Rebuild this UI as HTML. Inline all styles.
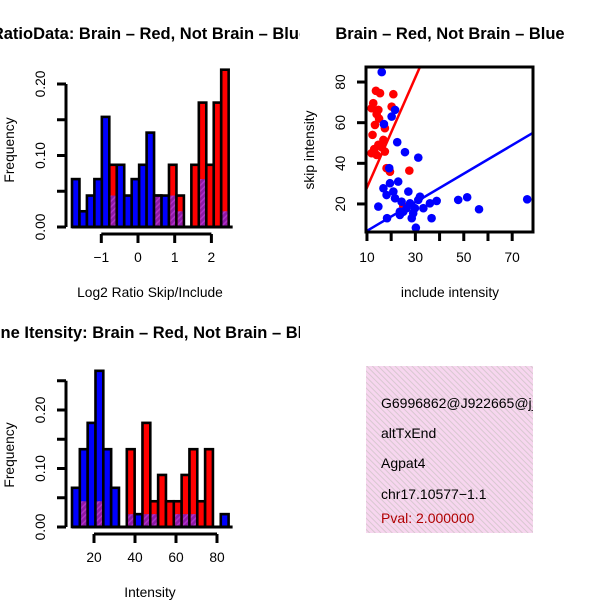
<!DOCTYPE html>
<html><head><meta charset="utf-8"><style>
html,body{margin:0;padding:0;background:#fff}
svg{display:block}
text{font-family:"Liberation Sans",sans-serif;}
</style></head><body>
<svg id="s" width="600" height="600" xmlns="http://www.w3.org/2000/svg">
<defs>
<pattern id="hatch" width="4" height="4" patternUnits="userSpaceOnUse" patternTransform="rotate(45)"><rect width="4" height="4" fill="#8e1aa6"/><rect width="1.5" height="4" fill="#b030c8"/></pattern>
<pattern id="pink" width="4" height="4" patternUnits="userSpaceOnUse" patternTransform="rotate(-45)"><rect width="4" height="4" fill="#f7d6ef"/><rect width="1" height="4" fill="#d8c8d0"/></pattern>
<clipPath id="c1"><rect x="0" y="0" width="300" height="300"/></clipPath>
<clipPath id="c3"><rect x="0" y="300" width="300" height="300"/></clipPath>
<clipPath id="cs"><rect x="366" y="67" width="167" height="165"/></clipPath>
<clipPath id="cb"><rect x="366" y="366" width="167" height="167"/></clipPath>
</defs>
<g clip-path="url(#c1)"><text x="150" y="39" text-anchor="middle" font-size="16.5" font-weight="bold">RatioData: Brain – Red, Not Brain – Blue</text></g>
<g clip-path="url(#c3)"><text x="150" y="338" text-anchor="middle" font-size="16.5" font-weight="bold">Gene Itensity: Brain – Red, Not Brain – Blue</text></g>
<text x="450" y="39" text-anchor="middle" font-size="16.5" font-weight="bold">Brain – Red, Not Brain – Blue</text>
<g id="p1"></g><g id="p3"></g><g id="ps"></g>
<g>
<rect x="366" y="366" width="167" height="167" fill="url(#pink)"/>
<g clip-path="url(#cb)" font-size="14">
<text x="381" y="408">G6996862@J922665@j_</text>
<text x="381" y="438">altTxEnd</text>
<text x="381" y="468">Agpat4</text>
<text x="381" y="499">chr17.10577−1.1</text>
<text x="381" y="523" fill="#b00000">Pval: 2.000000</text>
</g></g>
</svg>
<script>
// Histogram 1 (log2 ratio)
const h1Blue=[0.067,0.022,0.044,0.067,0.154,0.044,0.087,0.044,0.067,0.087,0.132,0.044,0.044,0.044,0.022,0,0,0.067,0,0,0.022];
const h1Red=[0,0,0,0,0,0.087,0,0,0,0,0,0.044,0,0.087,0.044,0,0.087,0.174,0.087,0.174,0.22];
const h1XTicks=[-1,0,1,2];
const h1YTicks=[0,0.05,0.1,0.15,0.2];
const h1YLabels=["0.00","0.10","0.20"];
// Histogram 2 (intensity)
const h2Blue=[0.067,0.133,0.178,0.267,0.133,0.067,0,0.022,0.022,0.022,0.022,0,0,0.022,0.022,0.022,0,0,0,0.022];
const h2Red=[0,0.044,0,0.044,0,0,0,0.133,0,0.178,0.044,0.089,0.044,0.044,0.089,0.133,0.044,0.133,0,0];
const h2XTicks=[20,40,60,80];
const h2YTicks=[0,0.05,0.1,0.15,0.2,0.25];
const h2YLabels=["0.00","0.10","0.20"];
// Scatter
const redX=[13.7,15.4,20.9,12.6,11.9,14.7,20.2,14,13.3,17.4,12.3,16.8,14.7,11.9,14,17.4,18.1,19.5,27.5,15,13,16,25];
const redY=[75.7,74.5,74,69.6,67.1,66.3,67.9,64.2,58.9,57.3,54,51.5,49.1,45,44.1,45.8,37.6,35.9,36.4,62,47,48,19];
const blueX=[16.1,21.6,20.2,17,22.5,25.7,31.2,19.2,16.8,19.5,22.9,18.1,20.9,27.1,14.7,24.3,27.8,26.4,23.6,29.1,31.2,31.9,33.3,36,38.8,47.7,51.4,56.3,76.2,18.3,23.6,28.5,30.2,36.7,25,21.6,29.8];
const blueY=[84.9,66.3,63,59.3,50.4,45.5,42.8,37.6,27.7,30.2,31,24.4,26.1,26.1,18.7,21.1,20.3,17.9,16.2,15.4,22,23.6,17.9,20.3,21.5,22,23.3,17.4,22.3,13,14.6,13,8.3,13,16.2,22.8,17.9];
const fitIntercept=[1.0,-0.25];
const fitSlope=[2.71,0.703];
const sXTicks=[10,20,30,40,50,60,70];
const sXLabels=[10,30,50,70];
const sYTicks=[20,40,60,80];

const NS="http://www.w3.org/2000/svg";
const FS=13.8;
function mk(tag,attrs,parent){const e=document.createElementNS(NS,tag);for(const k in attrs)e.setAttribute(k,attrs[k]);parent.appendChild(e);return e;}

function hist(g,blue,red,x0,bw,ybase,sy){
  for(let i=0;i<blue.length;i++){
    const b=blue[i],r=red[i];const x=x0+i*bw;
    const mx=Math.max(b,r),mn=Math.min(b,r);
    if(mx>0){
      const rc=mk('rect',{x:x,y:ybase-mx*sy,width:bw,height:mx*sy,fill:b>=r?'#0000ff':'#ff0000',stroke:'#000','stroke-width':2.6},g);
      
      
    }
    if(mn>0){
      const pc=mk('rect',{x:x+1.3,y:ybase-mn*sy,width:bw-2.6,height:mn*sy-1.3,fill:'url(#hatch)'},g);
      
      
      if(b===r){mk('line',{x1:x,x2:x+bw,y1:ybase-mn*sy,y2:ybase-mn*sy,stroke:'#000','stroke-width':2.6},g);}
    }
  }
  mk('line',{x1:x0,x2:x0+bw*blue.length+4,y1:ybase,y2:ybase,stroke:'#000','stroke-width':3},g);
}

function buildHist(id,blue,red,x0,bw,ybase,sy,xticks,xpx,yticks,ylabels,axisY,yAxisX,xlabel,xlabY,freqY){
  const g=document.getElementById(id);
  hist(g,blue,red,x0,bw,ybase,sy);
  const ya=mk('line',{x1:yAxisX,x2:yAxisX,y1:ybase,y2:ybase-yticks[yticks.length-1]*sy,stroke:'#000','stroke-width':3},g);
  
  
  yticks.forEach(t=>{const y=ybase-t*sy;mk('line',{x1:yAxisX-9,x2:yAxisX,y1:y,y2:y,stroke:'#000','stroke-width':3},g);});
  ylabels.forEach((l,i)=>{const y=ybase-i*0.1*sy;const t=mk('text',{x:0,y:0,transform:`translate(45,${y}) rotate(-90)`,'text-anchor':'middle','font-size':FS},g);t.textContent=l;
    
    });
  const xs=xticks.map(xpx);
  const xa=mk('line',{x1:xs[0],x2:xs[xs.length-1],y1:axisY,y2:axisY,stroke:'#000','stroke-width':3},g);
  
  
  xticks.forEach(v=>{const x=xpx(v);mk('line',{x1:x,x2:x,y1:axisY,y2:axisY+9,stroke:'#000','stroke-width':3},g);
    const t=mk('text',{x:x,y:axisY+28,'text-anchor':'middle','font-size':FS},g);t.textContent=v<0?'−'+(-v):String(v);
    
    });
  const xl=mk('text',{x:150,y:xlabY,'text-anchor':'middle','font-size':FS},g);xl.textContent=xlabel;
  
  
  const fl=mk('text',{x:0,y:0,transform:`translate(14,${freqY}) rotate(-90)`,'text-anchor':'middle','font-size':FS},g);fl.textContent='Frequency';
  
  
}
buildHist('p1',h1Blue,h1Red,72,7.46,227,715,h1XTicks,v=>138+v*36.7,h1YTicks,h1YLabels,234,66,'Log2 Ratio Skip/Include',297,150);
buildHist('p3',h2Blue,h2Red,72,7.83,527,585,h2XTicks,v=>53+v*2.05,h2YTicks,h2YLabels,534,66,'Intensity',597,455);

(function(){
  const g=document.getElementById('ps');
  const xmin=9.6,xmax=78.6,ymin=6.2,ymax=87.4,L=366,R=533,T=67,B=232;
  const X=v=>L+(v-xmin)/(xmax-xmin)*(R-L);
  const Y=v=>B-(v-ymin)/(ymax-ymin)*(B-T);
  const cg=mk('g',{'clip-path':'url(#cs)'},g);
  for(let i=0;i<redX.length;i++){const c=mk('circle',{cx:X(redX[i]),cy:Y(redY[i]),r:4.3,fill:'#ff0000'},cg);
    
    }
  for(let i=0;i<blueX.length;i++){const c=mk('circle',{cx:X(blueX[i]),cy:Y(blueY[i]),r:4.3,fill:'#0000ff'},cg);
    
    }
  ['#ff0000','#0000ff'].forEach((col,k)=>{const a=fitIntercept[k],b=fitSlope[k];
    const l=mk('line',{x1:X(xmin),y1:Y(a+b*xmin),x2:X(xmax),y2:Y(a+b*xmax),stroke:col,'stroke-width':2.5},cg);
    
    });
  const box=mk('rect',{x:L,y:T,width:R-L,height:B-T,fill:'none',stroke:'#000','stroke-width':3},g);
  
  
  sXTicks.forEach(v=>{mk('line',{x1:X(v),x2:X(v),y1:B,y2:B+9,stroke:'#000','stroke-width':3},g);});
  sXLabels.forEach(v=>{const t=mk('text',{x:X(v),y:262,'text-anchor':'middle','font-size':FS},g);t.textContent=v;
    
    });
  sYTicks.forEach(v=>{mk('line',{x1:L-9,x2:L,y1:Y(v),y2:Y(v),stroke:'#000','stroke-width':3},g);
    const t=mk('text',{x:0,y:0,transform:`translate(345,${Y(v)}) rotate(-90)`,'text-anchor':'middle','font-size':FS},g);t.textContent=v;
    
    });
  const xl=mk('text',{x:450,y:297,'text-anchor':'middle','font-size':FS},g);xl.textContent='include intensity';
  
  
  const yl=mk('text',{x:0,y:0,transform:'translate(314,150) rotate(-90)','text-anchor':'middle','font-size':FS},g);yl.textContent='skip intensity';
  
  
})();
</script>
</body></html>
